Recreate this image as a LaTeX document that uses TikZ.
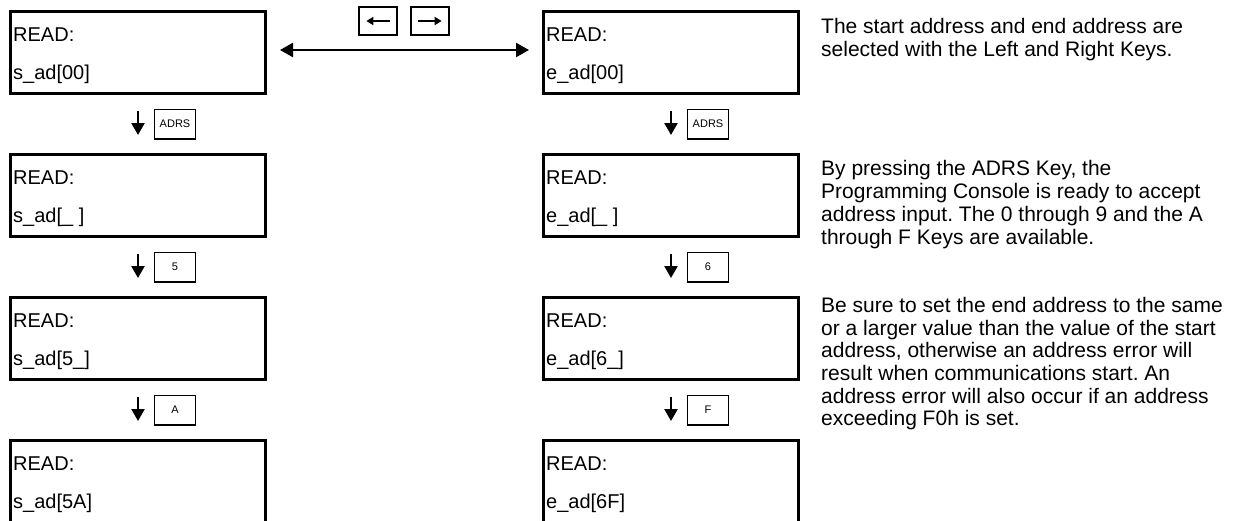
\documentclass[tikz,border=0pt]{standalone}
\usepackage{fontspec}
\setmainfont{Liberation Sans}
\frenchspacing
\usetikzlibrary{arrows.meta,positioning,calc}

\tikzset{
  lcd/.style={draw, line width=3.2pt, minimum width=254.8pt, minimum height=81.8pt, inner sep=0pt},
  lcdtext/.style={inner sep=0pt, align=left, font=\fontsize{20}{38}\selectfont},
  keybox/.style={draw, line width=1.3pt, minimum width=40.7pt, minimum height=29.7pt, inner sep=0pt, font=\fontsize{11}{13}\selectfont},
  note/.style={inner sep=0pt, anchor=north west, align=left, font=\fontsize{21}{22.7}\selectfont},
  darr/.style={line width=2.4pt, -{Triangle[length=12pt,width=13pt]}, shorten <=16pt, shorten >=18pt},
  harr/.style={line width=2.4pt, {Triangle[length=13pt,width=14pt]}-{Triangle[length=13pt,width=14pt]}, shorten <=13pt, shorten >=13pt},
  karr/.style={line width=2pt, -{Triangle[length=7pt,width=8pt]}, shorten <=8pt, shorten >=8pt}
}

\begin{document}
\begin{tikzpicture}[x=1pt, y=-1pt]
\useasboundingbox (0,0) rectangle (1236,520);

% display boxes, start address
\node[lcd, anchor=north west] (s1) at (9,10) {};
\node[lcd, below=58pt of s1] (s2) {};
\node[lcd, below=58pt of s2] (s3) {};
\node[lcd, below=58pt of s3] (s4) {};
% display boxes, end address
\node[lcd, right=275pt of s1] (e1) {};
\node[lcd, below=58pt of e1] (e2) {};
\node[lcd, below=58pt of e2] (e3) {};
\node[lcd, below=58pt of e3] (e4) {};

\node[lcdtext, below right=17.7pt and 4pt of s1.north west] (s1t) {READ:\\s\_ad[00]};
\node[lcdtext, below right=17.7pt and 4pt of s2.north west] (s2t) {READ:\\s\_ad[\_ ]};
\node[lcdtext, below right=17.7pt and 4pt of s3.north west] (s3t) {READ:\\s\_ad[5\_]};
\node[lcdtext, below right=17.7pt and 4pt of s4.north west] (s4t) {READ:\\s\_ad[5A]};
\node[lcdtext, below right=17.7pt and 4pt of e1.north west] (e1t) {READ:\\e\_ad[00]};
\node[lcdtext, below right=17.7pt and 4pt of e2.north west] (e2t) {READ:\\e\_ad[\_ ]};
\node[lcdtext, below right=17.7pt and 4pt of e3.north west] (e3t) {READ:\\e\_ad[6\_]};
\node[lcdtext, below right=17.7pt and 4pt of e4.north west] (e4t) {READ:\\e\_ad[6F]};

% keys between the boxes
\node[keybox] (ks1) at ($(s1.south)!.5!(s2.north)+(37,0)$) {ADRS};
\node[keybox] (ks2) at ($(s2.south)!.5!(s3.north)+(37,0)$) {5};
\node[keybox] (ks3) at ($(s3.south)!.5!(s4.north)+(37,0)$) {A};
\node[keybox] (ke1) at ($(e1.south)!.5!(e2.north)+(37,0)$) {ADRS};
\node[keybox] (ke2) at ($(e2.south)!.5!(e3.north)+(37,0)$) {6};
\node[keybox] (ke3) at ($(e3.south)!.5!(e4.north)+(37,0)$) {F};

\draw[darr] (s1) -- (s2);
\draw[darr] (s2) -- (s3);
\draw[darr] (s3) -- (s4);
\draw[darr] (e1) -- (e2);
\draw[darr] (e2) -- (e3);
\draw[darr] (e3) -- (e4);

% left / right keys
\node[keybox, minimum width=38pt, minimum height=28pt] (kl) at (378,21) {};
\node[keybox, minimum width=38pt, minimum height=28pt] (kr) at (430,21) {};
\draw[karr] (kl.east) -- (kl.west);
\draw[karr] (kr.west) -- (kr.east);
\draw[harr] ([yshift=2.5pt]s1.east) -- ([yshift=2.5pt]e1.west);

% explanations
\node[note] (n1) at (821,18) {The start address and end address are\\selected with the Left and Right Keys.};
\node[note] (n2) at (821,160.5) {By pressing the ADRS Key, the\\Programming Console is ready to accept\\address input. The 0 through 9 and the A\\through F Keys are available.};
\node[note] (n3) at (821,297) {Be sure to set the end address to the same\\or a larger value than the value of the start\\address, otherwise an address error will\\result when communications start. An\\address error will also occur if an address\\exceeding F0h is set.};
\end{tikzpicture}
\end{document}
